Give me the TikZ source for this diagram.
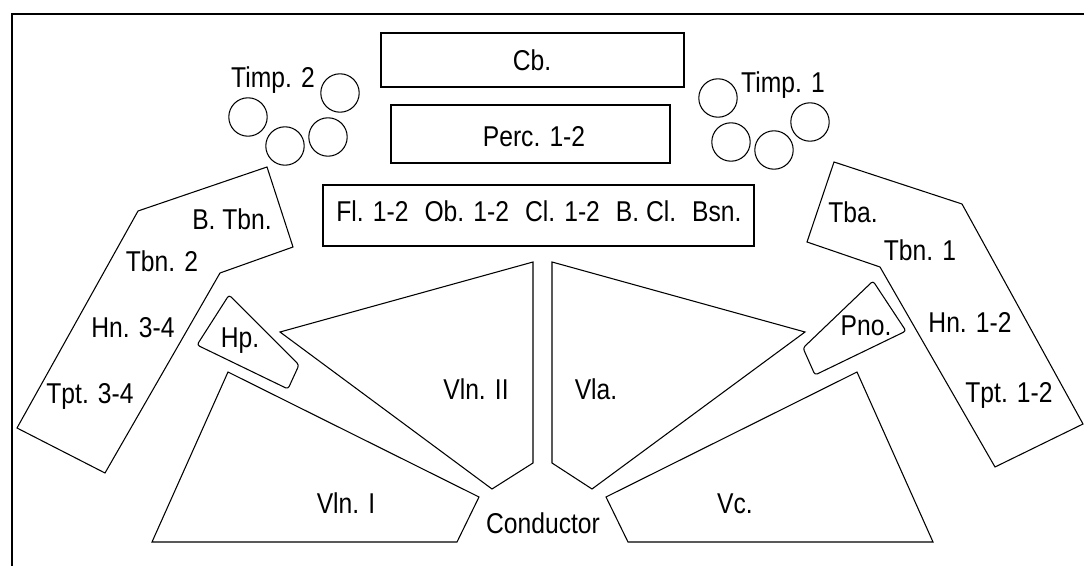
\documentclass[tikz,border=0pt]{standalone}
\usepackage{fontspec}
\setmainfont{Liberation Sans}[FakeStretch=0.86]
\tikzset{
  lbl/.style={font=\fontsize{21.5}{24}\selectfont, anchor=base, inner sep=0pt},
  sect/.style={draw=black, line width=0.8pt, line join=miter},
  box/.style={draw=black, line width=1pt},
  drum/.style={draw=black, line width=0.8pt},
}
\begin{document}
\begin{tikzpicture}[x=0.75pt,y=-0.75pt]
\useasboundingbox (0,0) rectangle (1084,566);
% frame
\draw[line width=1.6pt] (12,566) -- (12,14) -- (1084,14);
% back rows
\draw[box] (381,33) rectangle (684,87);
\node[lbl] (cb) at (532,71) {Cb.};
\draw[box] (391,105) rectangle (670,163);
\node[lbl] (perc) at (534,147) {Perc. 1-2};
\draw[box] (323,185) rectangle (754,246);
\node[lbl] (winds) at (539,222) {Fl. 1-2\hspace{12pt}Ob. 1-2\hspace{12pt}Cl. 1-2\hspace{12pt}B. Cl.\hspace{12pt}Bsn.};
% timpani 2
\foreach \p in {(340,93),(248,117),(285,146),(328,137)}
  \draw[drum] \p circle[radius=14.4pt];
\node[lbl] (timp2) at (273,88) {Timp. 2};
% timpani 1
\foreach \p in {(718,98),(731,142),(774,150),(810,122)}
  \draw[drum] \p circle[radius=14.4pt];
\node[lbl] (timp1) at (783,93) {Timp. 1};
% left brass
\draw[sect] (267,167)--(293,247)--(220,273)--(105,473)--(17,428)--(138,211)--cycle;
\node[lbl] (btbn) at (232,230) {B. Tbn.};
\node[lbl] (tbn2) at (162,272) {Tbn. 2};
\node[lbl] (hn34) at (133,337) {Hn. 3-4};
\node[lbl] (tpt34) at (90,403) {Tpt. 3-4};
% right brass
\draw[sect] (834,162)--(962,204)--(1083,424)--(995,467)--(880,267)--(807,242)--cycle;
\node[lbl] (tba) at (853,223) {Tba.};
\node[lbl] (tbn1) at (920,261) {Tbn. 1};
\node[lbl] (hn12) at (970,333) {Hn. 1-2};
\node[lbl] (tpt12) at (1009,402) {Tpt. 1-2};
% harp & piano
\draw[sect, rounded corners=2pt] (229,295)--(299,365)--(288,389)--(197,345)--cycle;
\node[lbl] (hp) at (240,348) {Hp.};
\draw[sect, rounded corners=2pt] (873,281)--(906,331)--(815,375)--(803,348)--cycle;
\node[lbl] (pno) at (866,335) {Pno.};
% strings
\draw[sect] (280,332)--(533,262)--(533,463)--(492,489)--cycle;
\node[lbl] (vln2) at (476,399) {Vln. II};
\draw[sect] (552,262)--(805,332)--(592,489)--(552,463)--cycle;
\node[lbl] (vla) at (596,399) {Vla.};
\draw[sect] (228,372)--(479,497)--(457,542)--(152,542)--cycle;
\node[lbl] (vln1) at (346,513) {Vln. I};
\draw[sect] (606,497)--(857,372)--(933,542)--(628,542)--cycle;
\node[lbl] (vc) at (735,513) {Vc.};
\node[lbl] (cond) at (543,533) {Conductor};
\end{tikzpicture}
\end{document}
